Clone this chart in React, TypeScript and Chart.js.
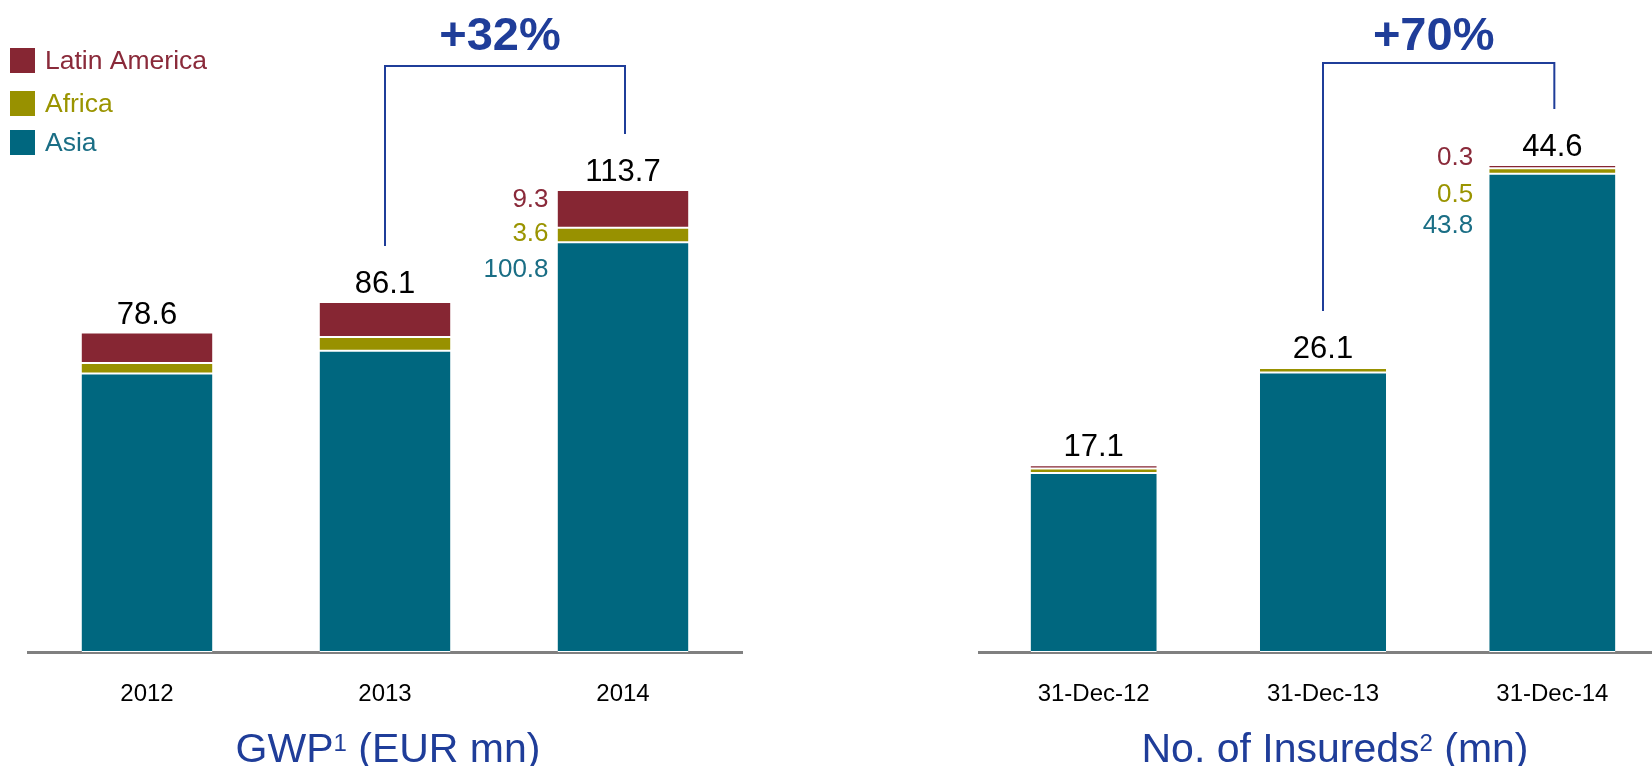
import React, { useEffect, useRef } from "react";
import { Chart, registerables } from "chart.js";
Chart.register(...registerables);

// ---------- DATA ----------
const gwpYears = ["2012", "2013", "2014"];
const gwpAsia = [68.5, 74.1, 100.8];
const gwpAfrica = [2.6, 3.4, 3.6];
const gwpLatam = [7.5, 8.6, 9.3];
const gwpTotals = [78.6, 86.1, 113.7];
const gwpGrowth = "+32%";

const insDates = ["31-Dec-12", "31-Dec-13", "31-Dec-14"];
const insAsia = [16.4, 25.6, 43.8];
const insAfrica = [0.4, 0.4, 0.5];
const insLatam = [0.3, 0.1, 0.3];
const insTotals = [17.1, 26.1, 44.6];
const insGrowth = "+70%";

const seriesNames = ["Latin America", "Africa", "Asia"];

// ---------- STYLE ----------
const FONT = "'Liberation Sans', Arial, Helvetica, sans-serif";
const BAR = { latam: "#862633", africa: "#989100", asia: "#00677F" };
const TXT = { latam: "#8A2A3A", africa: "#9A9400", asia: "#1A6E85" };
const BLUE = "#1F3D99";

type Part = { t: string; sup?: boolean };

function drawTitle(ctx: CanvasRenderingContext2D, parts: Part[], cx: number, baseline: number) {
  const big = `41px ${FONT}`;
  const small = `24px ${FONT}`;
  let total = 0;
  const widths = parts.map((p) => {
    ctx.font = p.sup ? small : big;
    const w = ctx.measureText(p.t).width;
    total += w;
    return w;
  });
  let x = cx - total / 2;
  ctx.fillStyle = BLUE;
  ctx.textAlign = "left";
  ctx.textBaseline = "alphabetic";
  parts.forEach((p, i) => {
    ctx.font = p.sup ? small : big;
    ctx.fillText(p.t, x, p.sup ? baseline - 11 : baseline);
    x += widths[i];
  });
}

type Cfg = {
  labels: string[];
  asia: number[];
  africa: number[];
  latam: number[];
  totals: number[];
  growth: string;
  ymax: number;
  padTop: number;
  padLeft: number;
  padRight: number;
  width: number;
  left: number;
  title: Part[];
  titleX: number;
  legend: boolean;
  bracketTop: number;
  segOffsets: number[];
  segGap: number;
};

function MiniChart({ cfg }: { cfg: Cfg }) {
  const ref = useRef<HTMLCanvasElement | null>(null);
  useEffect(() => {
    if (!ref.current) return;
    const overlay = {
      id: "overlay",
      afterDraw(chart: any) {
        const ctx: CanvasRenderingContext2D = chart.ctx;
        const xs = chart.scales.x;
        const ys = chart.scales.y;
        ctx.save();
        // totals
        ctx.fillStyle = "#000";
        ctx.font = `31px ${FONT}`;
        ctx.textAlign = "center";
        ctx.textBaseline = "alphabetic";
        cfg.totals.forEach((v, i) => {
          ctx.fillText(v.toFixed(1), xs.getPixelForValue(i), ys.getPixelForValue(v) - 9);
        });
        // segment labels on last bar
        const last = cfg.totals.length - 1;
        const bar: any = chart.getDatasetMeta(0).data[last];
        const bx = bar.x - bar.width / 2 - cfg.segGap;
        const topY = ys.getPixelForValue(cfg.totals[last]);
        const segs = [
          { v: cfg.latam[last], c: TXT.latam },
          { v: cfg.africa[last], c: TXT.africa },
          { v: cfg.asia[last], c: TXT.asia },
        ];
        ctx.font = `26px ${FONT}`;
        ctx.textAlign = "right";
        ctx.textBaseline = "middle";
        segs.forEach((s, k) => {
          ctx.fillStyle = s.c;
          ctx.fillText(s.v.toFixed(1), bx, topY + cfg.segOffsets[k]);
        });
        // bracket
        const x1 = xs.getPixelForValue(1);
        const x2 = xs.getPixelForValue(2) + 2;
        const b1 = ys.getPixelForValue(cfg.totals[1]) - 56;
        const b2 = ys.getPixelForValue(cfg.totals[2]) - 56;
        ctx.strokeStyle = BLUE;
        ctx.lineWidth = 2;
        ctx.beginPath();
        ctx.moveTo(x1, b1);
        ctx.lineTo(x1, cfg.bracketTop);
        ctx.lineTo(x2, cfg.bracketTop);
        ctx.lineTo(x2, b2);
        ctx.stroke();
        ctx.fillStyle = BLUE;
        ctx.font = `bold 47px ${FONT}`;
        ctx.textAlign = "center";
        ctx.textBaseline = "middle";
        ctx.fillText(cfg.growth, (x1 + x2) / 2 - 5, 37);
        // title
        drawTitle(ctx, cfg.title, cfg.titleX, 762);
        // legend
        if (cfg.legend) {
          const cols = [BAR.latam, BAR.africa, BAR.asia];
          const tcols = [TXT.latam, TXT.africa, TXT.asia];
          const ys2 = [48, 91, 130];
          ctx.font = `26.5px ${FONT}`;
          ctx.textAlign = "left";
          ctx.textBaseline = "middle";
          seriesNames.forEach((n, i) => {
            ctx.fillStyle = cols[i];
            ctx.fillRect(10, ys2[i], 25, 25);
            ctx.fillStyle = tcols[i];
            ctx.fillText(n, 45, ys2[i] + 14);
          });
        }
        ctx.restore();
      },
    };
    const common = {
      borderColor: "#ffffff",
      borderWidth: { top: 1, bottom: 1, left: 0, right: 0 },
      borderSkipped: false as const,
      barPercentage: 0.55,
      categoryPercentage: 1,
    };
    const chart = new Chart(ref.current, {
      type: "bar",
      data: {
        labels: cfg.labels,
        datasets: [
          { label: seriesNames[2], data: cfg.asia, backgroundColor: BAR.asia, ...common },
          { label: seriesNames[1], data: cfg.africa, backgroundColor: BAR.africa, ...common },
          { label: seriesNames[0], data: cfg.latam, backgroundColor: BAR.latam, ...common },
        ],
      },
      options: {
        responsive: false,
        animation: false,
        layout: { padding: { top: cfg.padTop, left: cfg.padLeft, right: cfg.padRight, bottom: 0 } },
        plugins: { legend: { display: false }, tooltip: { enabled: false } },
        scales: {
          x: {
            stacked: true,
            offset: true,
            grid: { display: false, drawTicks: false },
            border: { display: true, color: "#808080", width: 3 },
            ticks: { color: "#000", font: { family: FONT, size: 24 }, padding: 28, maxRotation: 0 },
            afterFit: (s: any) => {
              s.height = 114;
            },
          },
          y: { stacked: true, display: false, min: 0, max: cfg.ymax },
        },
      },
      plugins: [overlay],
    });
    return () => chart.destroy();
  }, [cfg]);
  return (
    <canvas
      ref={ref}
      width={cfg.width}
      height={766}
      style={{ position: "absolute", left: cfg.left, top: 0, width: cfg.width, height: 766 }}
    />
  );
}

const leftCfg: Cfg = {
  labels: gwpYears,
  asia: gwpAsia,
  africa: gwpAfrica,
  latam: gwpLatam,
  totals: gwpTotals,
  growth: gwpGrowth,
  ymax: 125,
  padTop: 144,
  padLeft: 28,
  padRight: 84,
  width: 826,
  left: 0,
  title: [{ t: "GWP" }, { t: "1", sup: true }, { t: " (EUR mn)" }],
  titleX: 388,
  legend: true,
  bracketTop: 66,
  segOffsets: [10, 44, 80],
  segGap: 9,
};

const rightCfg: Cfg = {
  labels: insDates,
  asia: insAsia,
  africa: insAfrica,
  latam: insLatam,
  totals: insTotals,
  growth: insGrowth,
  ymax: 50,
  padTop: 106,
  padLeft: 153,
  padRight: 59,
  width: 900,
  left: 826,
  title: [{ t: "No. of Insureds" }, { t: "2", sup: true }, { t: " (mn)" }],
  titleX: 509,
  legend: false,
  bracketTop: 63,
  segOffsets: [-7, 30, 61],
  segGap: 16,
};

export default function App() {
  return (
    <div
      style={{
        position: "absolute",
        left: 0,
        top: 0,
        width: 1652,
        height: 766,
        overflow: "hidden",
        background: "#fff",
      }}
    >
      <MiniChart cfg={leftCfg} />
      <MiniChart cfg={rightCfg} />
    </div>
  );
}
